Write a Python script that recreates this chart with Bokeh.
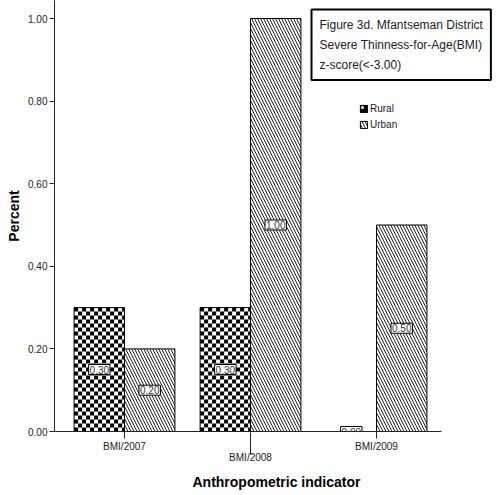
import numpy as np
from bokeh.plotting import figure
from bokeh.models import (ColumnDataSource, LinearAxis, FixedTicker, Range1d,
                          NumeralTickFormatter, Label, Legend, LegendItem)
from bokeh.core.properties import value
from bokeh.embed import file_html
from bokeh.resources import INLINE

# ---- data ----
categories = ["BMI/2007", "BMI/2008", "BMI/2009"]
rural = [0.30, 0.30, 0.00]
urban = [0.20, 1.00, 0.50]
y_ticks = [0.0, 0.2, 0.4, 0.6, 0.8, 1.0]
title_lines = ["Figure 3d. Mfantseman District",
               "Severe Thinness-for-Age(BMI)",
               "z-score(<-3.00)"]

FONT = "Liberation Sans"
idx = np.arange(len(categories))
W = 0.4
X0, X1 = -0.5556, 2.516       # visible extent of the category axis
XR = 2.968                    # frame extends right to hold the title box
Y1 = 1.0436

src_r = ColumnDataSource(dict(x=idx - W / 2, top=rural, mid=[v / 2 for v in rural],
                              lab=[f"{v:.2f}" for v in rural]))
src_u = ColumnDataSource(dict(x=idx + W / 2, top=urban, mid=[v / 2 for v in urban],
                              lab=[f"{v:.2f}" for v in urban]))

# checkerboard fill for the rural bars (cells of ~4px)
cx, cy = 4 / 126, 4 / 413
ql, qr, qb, qt = [], [], [], []
for xc, v in zip(idx - W / 2, rural):
    if v <= 0:
        continue
    left, right = xc - W / 2, xc + W / 2
    nx, ny = int(np.ceil(W / cx)), int(np.ceil(v / cy))
    for i in range(nx):
        for j in range(ny):
            if (i + j) % 2 == 0:
                ql.append(left + i * cx)
                qr.append(min(left + (i + 1) * cx, right))
                qb.append(j * cy)
                qt.append(min((j + 1) * cy, v))
src_q = ColumnDataSource(dict(left=ql, right=qr, bottom=qb, top=qt))

p = figure(width=498, height=495, output_backend="svg", toolbar_location=None,
           x_range=Range1d(X0, XR), y_range=Range1d(0, Y1),
           x_axis_location=None, min_border_left=54, min_border_right=0,
           min_border_top=0, min_border_bottom=64)
p.outline_line_color = None
p.xgrid.visible = False
p.ygrid.visible = False
p.background_fill_color = "white"

p.vbar(x="x", top="top", bottom=0, width=W, source=src_r, fill_color="white",
       line_color=None)
p.quad(left="left", right="right", bottom="bottom", top="top", source=src_q,
       fill_color="black", line_color=None)
p.vbar(x="x", top="top", bottom=0, width=W, source=src_r, fill_color=None,
       line_color="black", line_width=1)
r_u = p.vbar(x="x", top="top", bottom=0, width=W, source=src_u, fill_color="white",
             line_color="black", line_width=1, hatch_pattern="\\",
             hatch_color="#222222", hatch_scale=6, hatch_weight=1)
# legend swatch stand-in for the checker pattern (zero-height bars)
r_sw = p.vbar(x="x", top=0, bottom=0, width=W, source=src_r, fill_color="black",
              line_color="black", hatch_pattern=".", hatch_color="white",
              hatch_scale=6)

for s in (src_r, src_u):
    p.text(x="x", y="mid", text="lab", source=s, text_align="center",
           text_baseline="middle", text_font=value(FONT), text_font_size="10px",
           text_color="#333333", background_fill_color="white",
           border_line_color="black", border_line_width=1, padding=1)

# y axis
ya = p.yaxis[0]
ya.ticker = FixedTicker(ticks=y_ticks)
ya.formatter = NumeralTickFormatter(format="0.00")
ya.major_tick_out = 5
ya.major_tick_in = 0
ya.minor_tick_out = 0
ya.minor_tick_in = 0
ya.major_label_standoff = 2
ya.major_label_text_font = FONT
ya.major_label_text_font_size = "10px"
ya.major_label_text_color = "#222222"
ya.axis_line_color = "#222222"
ya.major_tick_line_color = "#222222"
ya.axis_label = "Percent"
ya.axis_label_text_font = FONT
ya.axis_label_text_font_style = "bold"
ya.axis_label_text_font_size = "14px"
ya.axis_label_text_color = "black"
ya.axis_label_standoff = 3

# x axes (staggered labels)
ax1 = LinearAxis(ticker=FixedTicker(ticks=[0, 2], minor_ticks=[]),
                 major_label_overrides={i: c for i, c in enumerate(categories) if i != 1},
                 bounds=(X0, X1))
ax1.major_tick_out = 7
ax1.major_tick_in = 0
ax1.minor_tick_out = 0
ax1.minor_tick_in = 0
ax1.major_label_standoff = 2
ax1.major_label_text_font = FONT
ax1.major_label_text_font_size = "10px"
ax1.major_label_text_color = "#222222"
ax1.axis_line_color = "#222222"
ax1.major_tick_line_color = "#222222"

ax2 = LinearAxis(ticker=FixedTicker(ticks=[1], minor_ticks=[]),
                 major_label_overrides={1: categories[1]})
ax2.major_tick_out = 0
ax2.major_tick_in = 22
ax2.minor_tick_out = 0
ax2.minor_tick_in = 0
ax2.axis_line_color = None
ax2.major_tick_line_color = "#222222"
ax2.major_label_standoff = -3
ax2.major_label_text_font = FONT
ax2.major_label_text_font_size = "10px"
ax2.major_label_text_color = "#222222"
ax2.axis_label = "Anthropometric indicator"
ax2.axis_label_text_font = FONT
ax2.axis_label_text_font_style = "bold"
ax2.axis_label_text_font_size = "14px"
ax2.axis_label_text_color = "black"
ax2.axis_label_standoff = 8
p.add_layout(ax1, "below")
p.add_layout(ax2, "below")

# title box
title = Label(x=1.484, y=1.0218, x_units="data", y_units="data",
              text="\n".join(title_lines), text_align="left", text_baseline="top",
              text_font=FONT, text_font_size="12px", text_color="#222222",
              text_line_height=1.45, border_line_color="black", border_line_width=2,
              background_fill_color="white", padding=8)
p.add_layout(title)

# legend
lg = Legend(items=[LegendItem(label="Rural", renderers=[r_sw]),
                   LegendItem(label="Urban", renderers=[r_u])],
            location=(305, 300), padding=0, margin=0, spacing=2,
            glyph_width=9, glyph_height=9, label_height=14, label_standoff=2,
            label_text_font=FONT, label_text_font_size="10px",
            label_text_color="#222222", background_fill_alpha=0,
            border_line_alpha=0)
p.add_layout(lg, "center")

open("out.html", "w").write(file_html(p, INLINE))
